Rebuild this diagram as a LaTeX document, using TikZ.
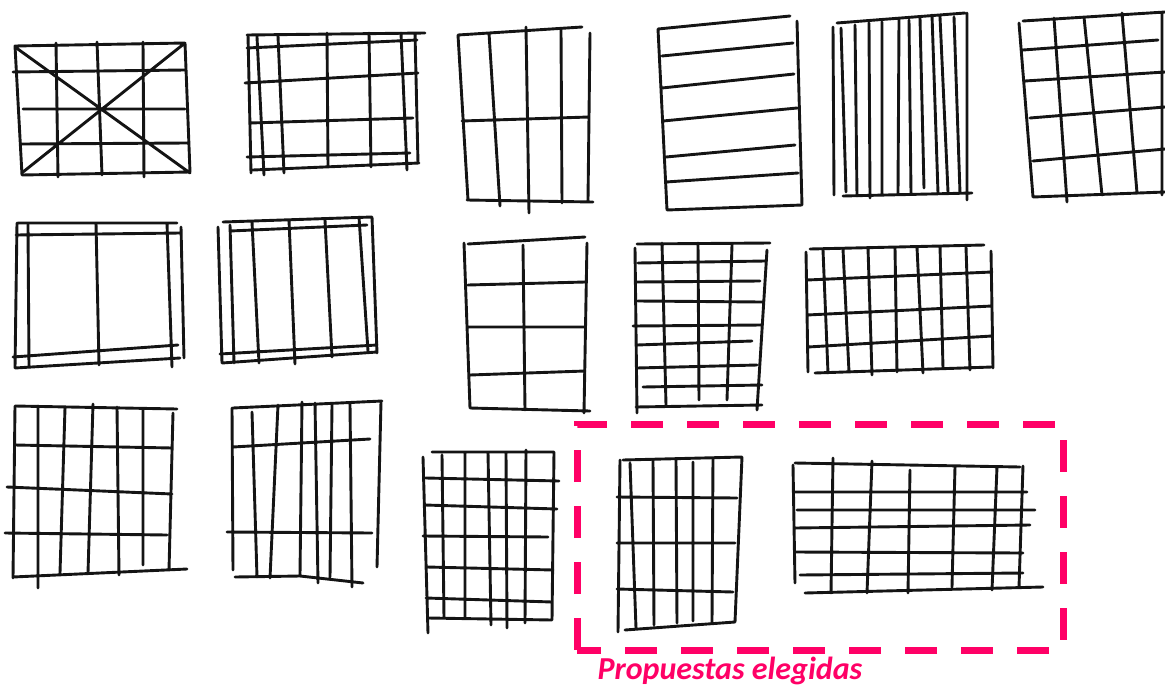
\documentclass[tikz,border=0pt]{standalone}
\usepackage{fontspec}
\newfontfamily\notefont{Carlito}
\usetikzlibrary{positioning}
\definecolor{pickpink}{RGB}{255,0,102}
\tikzset{
  pen/.style={line width=2.9pt, line cap=round, line join=round, black!92},
  pick/.style={draw=pickpink, line width=7pt, dash pattern=on 32pt off 24pt},
  note/.style={text=pickpink, font=\notefont\bfseries\itshape\fontsize{32}{36}\selectfont},
}

\begin{document}
\begin{tikzpicture}[x=1pt, y=-1pt]
  \useasboundingbox (0,0) rectangle (1165,691);
  % first row
  \draw[pen] (15,46) -- (185,43) -- (190,172) -- (22,175) -- cycle
    (56,43) -- (58,177) (97,42) -- (102,175) (143,42) -- (144,177)
    (13,72) -- (185,70) (23,109) -- (185,109) (21,144) -- (187,143)
    (15,47) -- (190,173) (185,43) -- (23,172);
  \draw[pen] (248,35) -- (251,173) (257,37) -- (264,175) (278,36) -- (284,173)
    (327,33) -- (328,167) (369,33) -- (371,167) (401,33) -- (407,170) (415,33) -- (418,163)
    (247,35) -- (425,33) (247,48) -- (417,40) (245,83) -- (418,73)
    (250,123) -- (413,118) (247,157) -- (410,153) (253,170) -- (419,163);
  \draw[pen] (458,35) -- (582,27) (458,35) -- (468,200) (467,200) -- (593,202)
    (489,33) -- (500,206) (526,27) -- (529,213) (561,30) -- (562,203) (590,33) -- (588,200)
    (462,121) -- (589,117);
  \draw[pen] (658,29) -- (790,16) (658,29) -- (667,210) -- (802,205) -- (797,21)
    (662,56) -- (793,43) (662,88) -- (794,74) (663,121) -- (797,108)
    (666,157) -- (795,145) (666,182) -- (798,173);
  \draw[pen] (837,23) -- (965,13) (967,13) -- (967,200) (843,196) -- (972,193)
    (833,27) -- (834,195) (841,28) -- (846,192) (855,25) -- (857,196) (869,23) -- (870,198)
    (882,22) -- (882,195) (899,20) -- (898,193) (909,20) -- (911,193) (920,18) -- (924,188)
    (932,15) -- (938,193) (940,17) -- (948,192) (954,17) -- (960,193);
  \draw[pen] (1023,21) -- (1165,12) (1019,23) -- (1033,197) -- (1165,192)
    (1054,18) -- (1067,202) (1084,17) -- (1102,195) (1122,13) -- (1137,193) (1162,13) -- (1162,195)
    (1023,50) -- (1158,40) (1025,81) -- (1165,72) (1030,118) -- (1165,107) (1033,161) -- (1165,149);
  % second row
  \draw[pen] (18,223) -- (177,223) (17,223) -- (15,368) (28,225) -- (29,367)
    (96,223) -- (99,365) (167,223) -- (172,367) (181,227) -- (184,358)
    (16,235) -- (180,233) (13,357) -- (178,345) (15,368) -- (180,358);
  \draw[pen] (223,222) -- (372,217) (218,227) -- (222,363) (230,225) -- (234,363)
    (252,222) -- (259,363) (289,220) -- (295,364) (325,220) -- (332,357)
    (359,217) -- (368,351) (372,217) -- (377,353)
    (230,231) -- (367,225) (220,354) -- (377,345) (222,363) -- (377,352);
  \draw[pen] (468,244) -- (585,237) (464,243) -- (470,408) -- (590,411) (587,243) -- (584,413)
    (523,245) -- (525,410) (468,285) -- (585,282) (468,327) -- (585,327) (470,375) -- (585,371);
  \draw[pen] (637,244) -- (770,243) (635,248) -- (637,413) (767,250) -- (757,410)
    (662,243) -- (666,405) (698,243) -- (699,400) (732,245) -- (727,400)
    (638,263) -- (765,261) (637,282) -- (760,281) (638,301) -- (762,302) (633,326) -- (762,325)
    (637,345) -- (752,341) (637,368) -- (757,365) (643,387) -- (762,385) (636,407) -- (762,405);
  \draw[pen] (810,249) -- (984,245) (806,252) -- (808,372) (815,373) -- (992,367) (991,251) -- (993,368)
    (823,250) -- (828,373) (843,249) -- (849,372) (868,248) -- (872,375) (895,248) -- (897,372)
    (917,247) -- (923,373) (940,246) -- (943,368) (966,247) -- (970,370)
    (807,280) -- (992,272) (807,315) -- (992,306) (808,347) -- (992,336);
  % third row
  \draw[pen] (15,406) -- (177,409) (15,406) -- (13,578) (13,577) -- (187,569) (173,413) -- (169,570)
    (38,406) -- (38,588) (65,408) -- (60,573) (93,404) -- (88,573) (117,407) -- (119,575)
    (143,410) -- (143,565)
    (15,445) -- (172,448) (7,487) -- (172,494) (5,533) -- (167,535);
  \draw[pen] (233,408) -- (382,401) (232,408) -- (233,570) (381,402) -- (377,567)
    (252,412) -- (257,577) (278,405) -- (270,578) (302,402) -- (300,575) (315,403) -- (318,583)
    (332,405) -- (330,577) (350,404) -- (352,587)
    (233,447) -- (370,439) (227,532) -- (372,533) (235,577) -- (300,576) -- (363,583);
  \draw[pen] (432,452) -- (554,452) (423,457) -- (428,633) (554,452) -- (552,620)
    (442,455) -- (444,618) (465,452) -- (465,618) (488,452) -- (491,625) (506,452) -- (507,628)
    (526,450) -- (525,623)
    (426,478) -- (559,481) (425,505) -- (557,509) (423,536) -- (548,537)
    (427,567) -- (553,570) (426,598) -- (552,602) (428,618) -- (552,620);
  \draw[pen] (623,460) -- (742,457) (620,460) -- (618,632) (742,457) -- (735,622)
    (630,463) -- (636,628) (653,460) -- (654,625) (676,459) -- (677,623) (693,462) -- (693,621)
    (713,458) -- (712,622)
    (617,497) -- (737,498) (617,543) -- (735,543) (617,589) -- (733,592) (625,630) -- (735,622);
  \draw[pen] (795,463) -- (1020,467) (793,465) -- (795,583) (1023,466) -- (1019,587)
    (833,458) -- (831,593) (872,461) -- (867,593) (910,470) -- (908,593)
    (955,467) -- (952,587) (997,467) -- (992,590)
    (793,492) -- (1027,492) (797,510) -- (1035,510) (795,528) -- (1030,525)
    (795,552) -- (1023,553) (800,575) -- (1023,573) (805,593) -- (1043,587);
  % chosen ones
  \draw[pick] (577,650) -- (577,424) -- (1063,424) -- (1063,650) -- cycle;
  \node[note, anchor=west] (chosen) at (594,671) {Propuestas elegidas};
\end{tikzpicture}
\end{document}
